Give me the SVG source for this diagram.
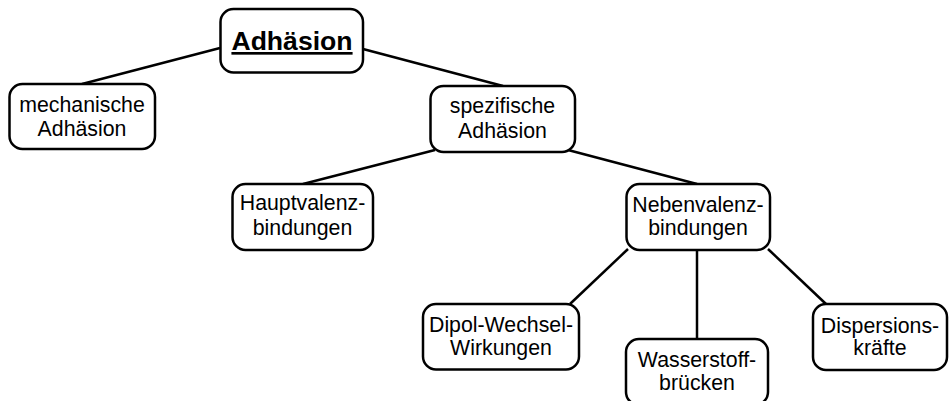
<svg xmlns="http://www.w3.org/2000/svg" width="949" height="401" viewBox="0 0 949 401">
<style>
.box{fill:#fff;stroke:#000;stroke-width:2.5}
.t{font-family:"Liberation Sans",Arial,sans-serif;font-size:21.3px;fill:#000;text-anchor:middle}
.title{font-family:"Liberation Sans",Arial,sans-serif;font-size:26.6px;font-weight:bold;text-decoration:underline;fill:#000;text-anchor:middle}
.c{stroke:#000;stroke-width:2.5;fill:none}
</style>
<rect width="949" height="401" fill="#fff"/>
<g id="connectors">
<line class="c" x1="220" y1="48" x2="82" y2="84"/>
<line class="c" x1="363" y1="49" x2="503" y2="86"/>
<line class="c" x1="435" y1="150" x2="303" y2="184"/>
<line class="c" x1="568" y1="150" x2="697" y2="184"/>
<line class="c" x1="628" y1="249" x2="570" y2="304"/>
<line class="c" x1="697" y1="250" x2="697" y2="339"/>
<line class="c" x1="768" y1="249" x2="826" y2="304"/>
</g>
<g id="adhaesion">
<rect class="box" x="220.5" y="9" width="142.5" height="63.5" rx="13"/>
<text class="title" x="292" y="50">Adhäsion</text>
</g>
<g id="mechanisch">
<rect class="box" x="9.5" y="84" width="145.5" height="65" rx="13"/>
<text class="t" x="82" y="112">mechanische</text>
<text class="t" x="82" y="136">Adhäsion</text>
</g>
<g id="spezifisch">
<rect class="box" x="430.5" y="86" width="144.5" height="66" rx="13"/>
<text class="t" x="502.5" y="113">spezifische</text>
<text class="t" x="502.5" y="138">Adhäsion</text>
</g>
<g id="hauptvalenz">
<rect class="box" x="232.5" y="184" width="140.5" height="66" rx="13"/>
<text class="t" x="302.5" y="210">Hauptvalenz-</text>
<text class="t" x="302.5" y="235">bindungen</text>
</g>
<g id="nebenvalenz">
<rect class="box" x="626.5" y="184" width="143.5" height="66" rx="13"/>
<text class="t" x="698" y="212">Nebenvalenz-</text>
<text class="t" x="698" y="235">bindungen</text>
</g>
<g id="dipol">
<rect class="box" x="423" y="304" width="156" height="65.5" rx="13"/>
<text class="t" x="501" y="332">Dipol-Wechsel-</text>
<text class="t" x="501" y="355">Wirkungen</text>
</g>
<g id="wasserstoff">
<rect class="box" x="626" y="339" width="142" height="66" rx="13"/>
<text class="t" x="697" y="367">Wasserstoff-</text>
<text class="t" x="697" y="390">brücken</text>
</g>
<g id="dispersion">
<rect class="box" x="813" y="304" width="134" height="66" rx="13"/>
<text class="t" x="880" y="333">Dispersions-</text>
<text class="t" x="880" y="355">kräfte</text>
</g>
</svg>
